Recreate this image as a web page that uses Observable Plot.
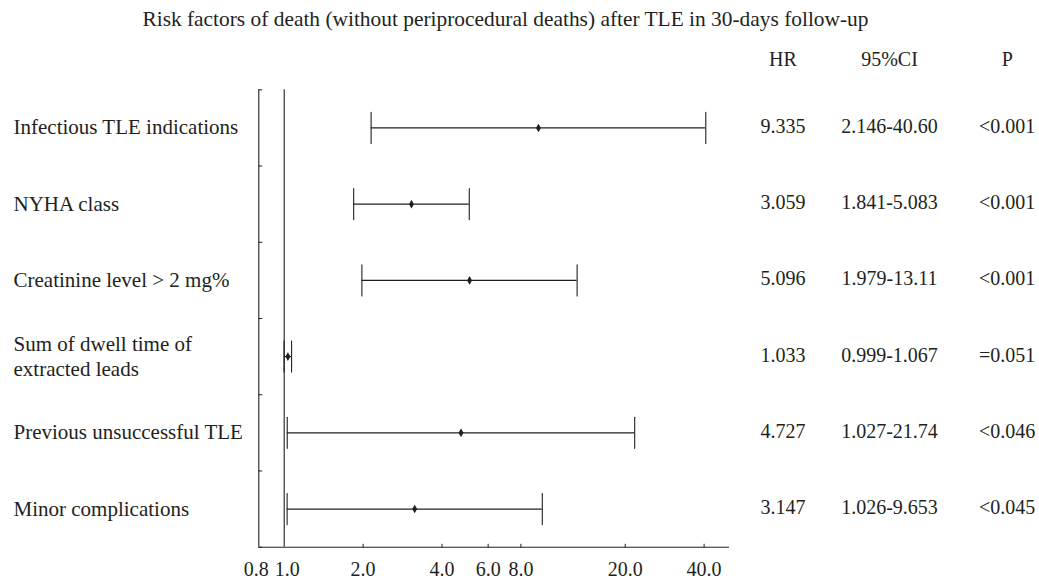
<!DOCTYPE html>
<html>
<head>
<meta charset="utf-8">
<script src="https://cdn.jsdelivr.net/npm/d3@7"></script>
<script src="https://cdn.jsdelivr.net/npm/@observablehq/plot@0.6"></script>
<style>
  html, body { margin: 0; padding: 0; background: #fff; }
  #chart svg { display: block; }
</style>
</head>
<body>
<div id="chart"></div>
<script>
const title = "Risk factors of death (without periprocedural deaths) after TLE in 30-days follow-up";
const factors = [
  "Infectious TLE indications",
  "NYHA class",
  "Creatinine level > 2 mg%",
  "Sum of dwell time of\nextracted leads",
  "Previous unsuccessful TLE",
  "Minor complications"
];
const hr = [9.335, 3.059, 5.096, 1.033, 4.727, 3.147];
const ciLow = [2.146, 1.841, 1.979, 0.999, 1.027, 1.026];
const ciHigh = [40.60, 5.083, 13.11, 1.067, 21.74, 9.653];
const hrText = ["9.335", "3.059", "5.096", "1.033", "4.727", "3.147"];
const ciText = ["2.146-40.60", "1.841-5.083", "1.979-13.11", "0.999-1.067", "1.027-21.74", "1.026-9.653"];
const pText = ["<0.001", "<0.001", "<0.001", "=0.051", "<0.046", "<0.045"];
const columnHeaders = ["HR", "95%CI", "P"];
const xTicks = [0.8, 1, 2, 4, 6, 8, 20, 40];
const xDomain = [0.8, 50];
const refValue = 1;

const rows = factors.map((f, i) => ({
  factor: f, pos: i + 0.5, hr: hr[i], lo: ciLow[i], hi: ciHigh[i],
  hrT: hrText[i], ciT: ciText[i], pT: pText[i]
}));
const boundaries = d3.range(0, factors.length + 1);

const ink = "#231f20";
const lineShape = {draw(ctx, l) { ctx.moveTo(0, 0); ctx.lineTo(0, -l); }};
const colDx = [53.5, 160, 277.7];
const fmt = d => d.toFixed(1);

const chart = Plot.plot({
  width: 1039,
  height: 579,
  marginTop: 89.3,
  marginBottom: 32.3,
  marginLeft: 258.3,
  marginRight: 310,
  style: {fontFamily: "'Liberation Serif', 'DejaVu Serif', serif", fontSize: "20px", color: ink, background: "#fff"},
  x: {type: "log", domain: xDomain, axis: null},
  y: {domain: [factors.length, 0], axis: null},
  marks: [
    // axes lines
    Plot.ruleX([xDomain[0]], {stroke: ink, strokeWidth: 1.1}),
    Plot.ruleY([factors.length], {stroke: ink, strokeWidth: 1.1}),
    // reference line
    Plot.ruleX([refValue], {stroke: ink, strokeWidth: 1.1}),
    // y-axis inward ticks at band boundaries
    Plot.vector(boundaries, {y: d => d, frameAnchor: "left", length: 3, rotate: 90, anchor: "start", shape: lineShape, stroke: ink, strokeWidth: 1}),
    // x-axis inward ticks
    Plot.vector(xTicks.filter(d => d > refValue), {x: d => d, frameAnchor: "bottom", length: 3, rotate: 0, anchor: "start", shape: lineShape, stroke: ink, strokeWidth: 1}),
    // x tick labels
    Plot.text(xTicks.slice(0, 1), {x: d => d, text: fmt, frameAnchor: "bottom", dx: -2.5, dy: 22, lineAnchor: "middle", fill: ink}),
    Plot.text(xTicks.slice(1, 2), {x: d => d, text: fmt, frameAnchor: "bottom", dx: 3, dy: 22, lineAnchor: "middle", fill: ink}),
    Plot.text(xTicks.slice(2), {x: d => d, text: fmt, frameAnchor: "bottom", dy: 22, lineAnchor: "middle", fill: ink}),
    // CI lines
    Plot.ruleY(rows, {y: "pos", x1: "lo", x2: "hi", stroke: ink, strokeWidth: 1.1}),
    // CI caps
    Plot.vector(rows, {x: "lo", y: "pos", length: 31, anchor: "middle", shape: lineShape, stroke: ink, strokeWidth: 1.1}),
    Plot.vector(rows, {x: "hi", y: "pos", length: 31, anchor: "middle", shape: lineShape, stroke: ink, strokeWidth: 1.1}),
    // point estimates
    Plot.dot(rows, {x: "hr", y: "pos", symbol: "diamond", r: 2.6, fill: ink, stroke: null}),
    // row labels
    Plot.text(rows, {y: "pos", text: "factor", frameAnchor: "left", dx: -245.3, dy: -1.5, textAnchor: "start", lineHeight: 1.2, fontSize: 21, fill: ink}),
    // table columns
    Plot.text(rows, {y: "pos", text: "hrT", frameAnchor: "right", dx: colDx[0], dy: -1.5, textAnchor: "middle", fill: ink}),
    Plot.text(rows, {y: "pos", text: "ciT", frameAnchor: "right", dx: colDx[1], dy: -1.5, textAnchor: "middle", fill: ink}),
    Plot.text(rows, {y: "pos", text: "pT", frameAnchor: "right", dx: colDx[2], dy: -1.5, textAnchor: "middle", fill: ink}),
    // column headers
    Plot.text([columnHeaders[0]], {text: d => d, frameAnchor: "top-right", dx: colDx[0], dy: -30.7, textAnchor: "middle", lineAnchor: "middle", fill: ink}),
    Plot.text([columnHeaders[1]], {text: d => d, frameAnchor: "top-right", dx: colDx[1], dy: -30.7, textAnchor: "middle", lineAnchor: "middle", fill: ink}),
    Plot.text([columnHeaders[2]], {text: d => d, frameAnchor: "top-right", dx: colDx[2], dy: -30.7, textAnchor: "middle", lineAnchor: "middle", fill: ink}),
    // title
    Plot.text([title], {text: d => d, frameAnchor: "top", dx: 11.3, dy: -70.7, textAnchor: "middle", lineAnchor: "middle", fontSize: 21.4, fill: ink})
  ]
});
document.getElementById("chart").append(chart);
</script>
</body>
</html>
